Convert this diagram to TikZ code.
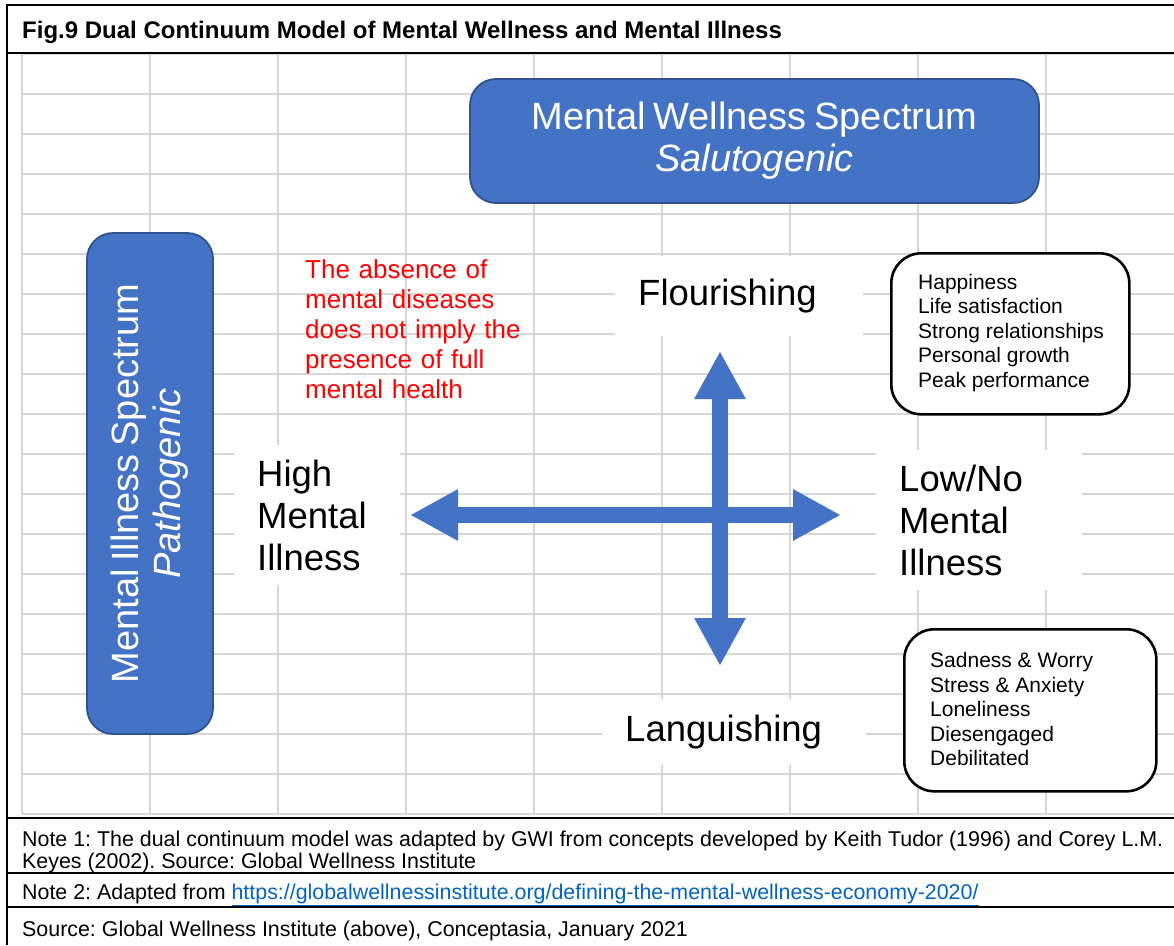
\documentclass[tikz,border=0pt]{standalone}
\usepackage{fontspec}
\setmainfont{Liberation Sans}
\usetikzlibrary{arrows.meta}
\definecolor{gridgrey}{HTML}{D6D6D6}
\definecolor{boxblue}{HTML}{4472C4}
\definecolor{boxedge}{HTML}{2F528F}
\definecolor{linkblue}{HTML}{0563C1}
\definecolor{notered}{HTML}{FF0000}
\newcommand\tightwords{\spaceskip=0.2em\relax}
\frenchspacing
\begin{document}
\begin{tikzpicture}[x=1pt,y=-1pt,
  gridline/.style={draw=gridgrey,line width=1.8pt},
  frameline/.style={draw=black,line width=2.6pt,line join=miter},
  noteline/.style={draw=black,line width=2.2pt},
  bluebox/.style={draw=boxedge,line width=1.8pt,fill=boxblue,rounded corners=26pt,
    text=white,align=center,inner sep=0pt,
    font=\fontsize{38}{42}\selectfont\tightwords},
  listbox/.style={draw=black,line width=2.6pt,fill=white,rounded corners=30pt,inner sep=0pt},
  listtext/.style={align=left,inner sep=0pt,anchor=west,font=\fontsize{21}{24.5}\selectfont},
  whitelabel/.style={fill=white,inner xsep=23pt,inner ysep=0pt,align=left,anchor=west,
    font=\fontsize{36.5}{42}\selectfont},
  redlabel/.style={inner xsep=8pt,inner ysep=4pt,align=left,anchor=west,
    text=notered,font=\fontsize{26}{30}\selectfont},
  notetext/.style={anchor=base west,inner sep=0pt,font=\fontsize{21.4}{22}\selectfont},
  titletext/.style={anchor=base west,inner sep=0pt,font=\fontsize{24}{28}\selectfont\bfseries},
  bigarrow/.style={draw=boxblue,line width=16pt,
    {Triangle[length=48pt,width=48pt]}-{Triangle[length=48pt,width=48pt]}}
]
\useasboundingbox (0,0) rectangle (1174,945);
\fill[white] (0,0) rectangle (1174,945);

% spreadsheet grid
\foreach \gx in {22,150,278,406,534,662,790,918,1046}
  \draw[gridline] (\gx,54) -- (\gx,814);
\foreach \gy in {54,94,...,814}
  \draw[gridline] (22,\gy) -- (1174,\gy);

% frame and rules
\draw[frameline] (7,945) -- (7,5) -- (1174,5);
\draw[frameline] (7,53) -- (1174,53);
\draw[noteline] (7,818) -- (1174,818);
\draw[noteline] (7,873) -- (1174,873);
\draw[noteline] (7,907) -- (1174,907);

% title
\node[titletext] (title) at (22,38.5) {Fig.9 Dual Continuum Model of Mental Wellness and Mental Illness};

% spectrum boxes
\node[bluebox, minimum width=569pt, minimum height=124pt] (wellness) at (754.5,141)
  {Mental Wellness Spectrum\\\textit{Salutogenic}};
\node[bluebox, rotate=90, minimum width=501pt, minimum height=126pt] (illness) at (150,483.5)
  {Mental Illness Spectrum\\\textit{Pathogenic}};

% labels
\node[redlabel, text width=225pt] (absence) at (297,329)
  {The absence of\\mental diseases\\does not imply the\\presence of full\\mental health};
\node[whitelabel, text width=202pt, minimum height=80pt] (flour) at (615,296) {Flourishing};
\node[whitelabel, text width=218pt, minimum height=66pt] (lang) at (602,732) {Languishing};
\node[whitelabel, text width=120pt, minimum height=140pt] (high) at (234,515) {High\\Mental\\Illness};
\node[whitelabel, text width=160pt, minimum height=140pt] (low) at (876,520) {Low/No\\Mental\\Illness};

% list boxes
\node[listbox, minimum width=238pt, minimum height=161pt, anchor=north west] (goodbox) at (890,252) {};
\node[listtext] (goodlist) at (918,333)
  {Happiness\\Life satisfaction\\Strong relationships\\Personal growth\\Peak performance};
\node[listbox, minimum width=252pt, minimum height=162pt, anchor=north west] (badbox) at (903,628) {};
\node[listtext] (badlist) at (930,709)
  {Sadness \& Worry\\Stress \& Anxiety\\Loneliness\\Diesengaged\\Debilitated};

% axes
\coordinate (hl) at (410,515);
\coordinate (hr) at (841,515);
\coordinate (vt) at (720,351);
\coordinate (vb) at (720,666);
\draw[bigarrow] (hl) -- (hr);
\draw[bigarrow] (vt) -- (vb);

% notes
\node[notetext] (note1a) at (22,846.5) {Note 1: The dual continuum model was adapted by GWI from concepts developed by Keith Tudor (1996) and Corey L.M.};
\node[notetext] (note1b) at (22,868.5) {Keyes (2002). Source: Global Wellness Institute};
\node[notetext] (note2) at (22,899.5) {Note 2: Adapted from \textcolor{linkblue}{\underline{https://globalwellnessinstitute.org/defining-the-mental-wellness-economy-2020/}}};
\node[notetext] (source) at (22,936.5) {Source: Global Wellness Institute (above), Conceptasia, January 2021};
\end{tikzpicture}
\end{document}
